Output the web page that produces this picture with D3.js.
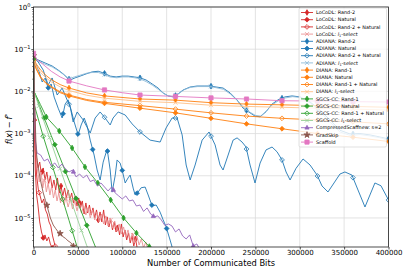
<!DOCTYPE html>
<html>
<head>
<meta charset="utf-8">
<script src="https://cdn.jsdelivr.net/npm/d3@7/dist/d3.min.js"></script>
<style>
  body { margin: 0; background: #fff; }
  svg { display: block; font-family: "DejaVu Sans", sans-serif; }
</style>
</head>
<body>
<svg id="chart" width="407" height="271"></svg>
<script>
// ---- tick labels ----
const xTicks = [0, 50000, 100000, 150000, 200000, 250000, 300000, 350000, 400000];
const yTicks = [1, 1e-1, 1e-2, 1e-3, 1e-4, 1e-5];
const yTickExp = ["0", "\u22121", "\u22122", "\u22123", "\u22124", "\u22125"];

// ---- series values: [communicated bits, f(x) - f*] ----
const locodlRand2 = [[0,0.08],[1000,3.6e-3],[2000,7.0e-4],[3000,3.1e-4],[5000,1.53e-4],[7000,2.12e-4],[9000,1.04e-4],[11000,1.53e-4],[13000,7.95e-5],[15000,1.23e-4],[17000,6.39e-5],[19000,9.9e-5],[21000,5.14e-5],[23000,7.95e-5],[25000,4.61e-5],[27000,8.87e-5],[29000,3.91e-5],[31000,5.73e-5],[33000,3.32e-5],[35000,5.14e-5],[37000,2.98e-5],[39000,4.61e-5],[41000,2.67e-5],[43000,3.91e-5],[45000,2.27e-5],[47000,3.32e-5],[49000,1.92e-5],[51000,2.98e-5],[53000,1.73e-5],[55000,2.53e-5],[57000,1.24e-5],[59000,2.27e-5],[61000,1.31e-5],[63000,2.03e-5],[65000,1.18e-5],[67000,1.73e-5],[69000,1.0e-5],[71000,1.55e-5],[73000,8.97e-6],[75000,1.39e-5],[77000,8.04e-6],[79000,1.55e-5],[81000,6.83e-6],[83000,1.06e-5],[85000,6.12e-6],[87000,8.97e-6],[89000,5.2e-6],[91000,8.04e-6],[93000,4.66e-6],[95000,6.83e-6],[97000,3.96e-6],[99000,7.21e-6],[101000,3.55e-6],[103000,5.2e-6],[105000,3.01e-6],[107000,4.41e-6],[109000,2.56e-6],[111000,3.75e-6],[113000,2.17e-6],[115000,3.18e-6],[117000,1.84e-6],[119000,1.5e-6]];
const locodlNatural = [[0,0.08],[1000,2.1e-3],[2000,1.37e-4],[3500,3.51e-5],[5000,2.03e-5],[7000,8.04e-6],[9000,4.66e-6],[11000,3.36e-6],[13000,3.96e-6],[15000,2.85e-6],[17000,3.55e-6],[19000,2.42e-6],[21000,1.95e-6],[23000,1.5e-6]];
const locodlRand2Natural = [[0,0.08],[1000,2.76e-3],[2000,4.09e-4],[3500,1.04e-4],[5500,4.61e-5],[7500,3.32e-5],[9500,2.27e-5],[11500,2.82e-5],[13500,1.55e-5],[15500,1.24e-5],[17500,8.04e-6],[19500,6.46e-6],[21500,3.75e-6],[23500,2.56e-6],[25500,1.74e-6]];
const locodlL1 = [[0,0.08],[1000,6.2e-3],[2000,9.3e-4],[3000,3.1e-4],[4500,1.37e-4],[6500,7.13e-5],[8500,1.23e-4],[10500,5.14e-5],[12500,8.87e-5],[14500,4.13e-5],[16500,6.75e-5],[18500,3.51e-5],[20500,5.73e-5],[22500,2.98e-5],[24500,4.61e-5],[26500,2.53e-5],[28500,3.91e-5],[30500,2.27e-5],[32500,3.51e-5],[34500,2.03e-5],[36500,3.15e-5],[39000,1.82e-5],[41500,2.82e-5],[44000,1.63e-5],[46500,2.53e-5],[49000,1.47e-5],[51500,2.27e-5],[54000,1.31e-5],[56500,1.92e-5],[59000,1.18e-5],[61500,1.73e-5],[64000,1.0e-5],[66500,1.55e-5],[69000,8.97e-6],[71500,1.39e-5],[74000,8.04e-6],[76500,1.24e-5],[79000,7.21e-6],[81500,1.12e-5],[84000,6.46e-6],[86500,1.0e-5],[89000,5.79e-6],[91500,8.49e-6],[94000,4.92e-6],[96500,7.21e-6],[99000,4.18e-6],[101500,6.12e-6],[104000,3.55e-6],[106500,5.2e-6],[109000,3.01e-6],[111500,4.41e-6],[114000,2.56e-6],[116500,3.75e-6],[119000,2.29e-6],[121500,3.18e-6],[124000,1.95e-6],[126500,2.7e-6],[129000,1.74e-6]];

const adianaRand2 = [[0,0.062],[5300,0.0555],[13200,0.047],[21000,0.04],[27800,0.032],[33400,0.026],[38000,0.021],[41400,0.0186],[47000,0.021],[52600,0.023],[59300,0.026],[66100,0.029],[72900,0.03],[79600,0.027],[86400,0.023],[93100,0.022],[99900,0.023],[106600,0.023],[113400,0.022],[120100,0.021],[126900,0.0186],[133700,0.015],[140400,0.012],[146000,0.0092],[151700,0.0078],[157300,0.0074],[163000,0.0087],[168600,0.0108],[176500,0.0127],[184300,0.0134],[192200,0.0134],[199000,0.0134],[205700,0.0127],[213600,0.012],[221500,0.0092],[229400,0.00625],[236200,0.004],[244000,0.0031],[249600,0.0026],[255300,0.0025],[262000,0.0033],[268800,0.005],[275500,0.0063],[283400,0.0074],[291300,0.0078],[300300,0.0074],[311600,0.0056],[322900,0.0036],[334100,0.0021],[345300,0.0012],[356600,0.00098],[367800,0.001],[379100,0.00093],[390300,0.00083],[400000,0.00075]];
const adianaNatural = [[0,0.062],[3000,0.042],[6400,0.029],[9800,0.0167],[13200,0.0207],[16500,0.012],[19900,0.015],[23300,0.0073],[27800,0.004],[32300,0.00234],[35700,0.005],[39000,0.0063],[42400,0.0036],[45800,0.0019],[50300,0.00093],[53700,0.0016],[57100,0.00234],[60500,0.0015],[63900,0.0007],[68300,0.00031],[71700,0.000137],[75100,7.95e-5],[78500,0.00021],[83000,0.00043],[86400,0.000137],[88600,4.1e-5],[92000,0.0001],[94200,0.000237],[97600,0.0002],[99900,0.000137],[103300,6.75e-5],[106600,8.9e-5],[108900,0.000104],[112300,5.1e-5],[114500,3.51e-5],[117900,4.1e-5],[121300,5.2e-5],[125800,5.4e-5],[129200,3.51e-5],[133700,1.92e-5],[138200,2.03e-5],[142700,1.37e-5],[146000,9.1e-6],[149400,6.2e-6],[153900,3.0e-6],[157300,1.7e-6]];
const adianaRand2Natural = [[0,0.062],[5300,0.0497],[10900,0.0322],[16500,0.0142],[21000,0.0208],[26700,0.0082],[32300,0.012],[37900,0.00625],[41400,0.00427],[44700,0.00188],[49200,0.00325],[56000,0.0021],[63900,0.00103],[69500,0.00234],[75100,0.00325],[80700,0.00234],[86400,0.0016],[89700,0.00234],[95400,0.00325],[103300,0.00276],[111200,0.00169],[120100,0.00109],[131400,0.0007],[142700,0.00063],[149400,0.00136],[156200,0.00234],[161800,0.00234],[167500,0.00093],[172000,0.00018],[176500,7.95e-5],[182100,0.00018],[190000,0.0007],[197800,0.00109],[204600,0.00054],[210200,0.00018],[213600,0.000137],[219300,0.00031],[224900,0.0007],[229400,0.00079],[235000,0.00063],[239500,0.00048],[244000,0.00018],[249600,6.75e-5],[255300,0.0002],[262000,0.00041],[268800,0.00048],[274400,0.00037],[280000,0.000237],[284600,0.000123],[289100,7.95e-5],[295800,0.00015],[303700,0.00025],[311600,0.00018],[319500,0.000104],[325100,5.73e-5],[331800,4.13e-5],[338600,6.75e-5],[345300,0.00011],[350900,0.000123],[358800,0.000104],[365600,4.61e-5],[373500,1.82e-5],[379100,3.51e-5],[384700,6.75e-5],[391500,5.8e-5],[400000,2.67e-5]];
const adianaL1 = [[0,0.062],[5000,0.052],[13000,0.044],[21000,0.038],[28000,0.031],[34000,0.025],[40000,0.02],[46000,0.022],[52000,0.024],[60000,0.027],[66000,0.028],[73000,0.028],[80000,0.025],[86000,0.022],[94000,0.021],[100000,0.022],[107000,0.022],[114000,0.021],[120000,0.02],[127000,0.017],[134000,0.014],[141000,0.011],[147000,0.0088],[152000,0.0078],[158000,0.0076],[164000,0.009],[170000,0.011],[177000,0.0125],[185000,0.013],[193000,0.013],[200000,0.013],[206000,0.0122],[214000,0.0112],[222000,0.0086],[230000,0.006],[237000,0.0041],[244000,0.0032],[250000,0.0027],[256000,0.0026],[262000,0.0034],[269000,0.0048],[276000,0.006],[284000,0.007],[292000,0.0075],[300000,0.0072],[312000,0.0053],[323000,0.0033],[334000,0.0019],[345000,0.0011],[357000,0.0009],[368000,0.00095],[379000,0.00088],[390000,0.0008],[400000,0.0007]];

const dianaRand1 = [[0,0.062],[3000,0.045],[8000,0.032],[14000,0.024],[20000,0.019],[30000,0.0145],[40000,0.012],[60000,0.0092],[80000,0.0078],[120000,0.0066],[160000,0.0062],[200000,0.0054],[240000,0.005],[280000,0.0048],[320000,0.0046],[360000,0.0044],[400000,0.0042]];
const dianaNatural = [[0,0.055],[3000,0.034],[8000,0.021],[14000,0.0155],[20000,0.0125],[30000,0.0093],[40000,0.0078],[60000,0.0061],[80000,0.0052],[120000,0.004],[160000,0.0031],[200000,0.0023],[240000,0.0017],[280000,0.0013],[320000,0.001],[360000,0.00082],[400000,0.00065]];
const dianaRand1Natural = [[0,0.055],[3000,0.035],[8000,0.022],[14000,0.016],[20000,0.013],[30000,0.0098],[40000,0.0082],[60000,0.0064],[80000,0.0055],[120000,0.0046],[160000,0.0038],[200000,0.0031],[240000,0.0026],[280000,0.0023],[320000,0.0021],[360000,0.0019],[400000,0.0017]];
const dianaL1 = [[0,0.06],[3000,0.04],[8000,0.028],[14000,0.021],[20000,0.0168],[30000,0.0128],[40000,0.0105],[60000,0.0081],[80000,0.0069],[120000,0.0058],[160000,0.0054],[200000,0.0047],[240000,0.0044],[280000,0.0042],[320000,0.004],[360000,0.0038],[400000,0.0036]];

const sgcsRand1 = [[0,0.06],[600,0.01],[14500,0.00247],[29000,0.00115],[43500,0.000456],[58000,0.000162],[72500,6.75e-5],[87000,2.67e-5],[101500,1.0e-5],[116000,4.4e-6],[130500,2.1e-6],[134000,1.7e-6]];
const sgcsNatural = [[0,0.06],[600,0.01],[10000,0.003],[20000,0.00089],[30000,0.000264],[40000,7.7e-5],[50000,2.27e-5],[60000,6.7e-6],[70000,2.0e-6],[72000,1.6e-6]];
const sgcsRand1Natural = [[0,0.06],[600,0.005],[10000,0.001],[20000,0.00021],[30000,4.3e-5],[40000,8.8e-6],[50000,1.8e-6]];
const sgcsL1 = [[0,0.06],[600,0.01],[10000,0.0025],[20000,0.00061],[30000,0.000148],[40000,3.6e-5],[50000,8.8e-6],[60000,2.2e-6],[62000,1.8e-6]];

const compressedScaffnew = [[0,0.07],[2000,7.0e-4],[4000,3.47e-4],[8000,3.11e-4],[12000,2.24e-4],[16000,2.5e-4],[20000,1.71e-4],[24000,2.01e-4],[28000,1.53e-4],[32000,1.9e-4],[36000,1.45e-4],[40000,1.23e-4],[44000,1.37e-4],[48000,9.4e-5],[52000,1.1e-4],[56000,8.9e-5],[60000,1.04e-4],[64000,7.3e-5],[68000,7.95e-5],[72000,5.7e-5],[76000,6.75e-5],[80000,5.43e-5],[84000,4.36e-5],[88000,5.43e-5],[92000,3.92e-5],[96000,3.33e-5],[100000,2.82e-5],[104000,3.33e-5],[108000,2.53e-5],[112000,2.67e-5],[116000,1.92e-5],[120000,2.03e-5],[124000,1.43e-5],[128000,1.73e-5],[132000,1.24e-5],[136000,1.06e-5],[140000,1.12e-5],[144000,8.97e-6],[148000,6.64e-6],[152000,7.21e-6],[156000,6.46e-6],[160000,4.66e-6],[164000,5.49e-6],[168000,3.75e-6],[172000,3.18e-6],[176000,3.96e-6],[180000,2.16e-6],[184000,2.42e-6],[188000,1.74e-6],[192000,1.4e-6]];
const gradSkip = [[0,0.07],[800,0.0108],[1900,0.0021],[3000,4.1e-4],[4200,2.3e-4],[5300,1.6e-4],[8000,7.5e-5],[11000,3.91e-5],[13500,2.6e-5],[16500,1.55e-5],[19000,1.0e-5],[22200,6.83e-6],[25000,5.6e-6],[27800,4.66e-6],[30500,4.2e-6],[33400,3.55e-6],[36000,3.3e-6],[39000,2.85e-6],[42000,2.6e-6],[44700,2.17e-6],[48000,1.84e-6],[50000,1.6e-6]];
const scaffold = [[0,0.08],[4000,0.056],[10000,0.045],[20000,0.03],[30000,0.022],[40000,0.0176],[60000,0.0135],[80000,0.0108],[100000,0.0093],[120000,0.0082],[160000,0.0076],[200000,0.007],[240000,0.0066],[280000,0.006],[320000,0.0059],[360000,0.0057],[400000,0.0056]];

// ---- series styling ----
const red = "#d62728", blue = "#1f77b4", orange = "#ff7f0e", green = "#2ca02c";
const series = [
  { name: "LoCoDL: Rand-2", data: locodlRand2, color: red, marker: "d", step: 21000, offset: 10000 },
  { name: "LoCoDL: Natural", data: locodlNatural, color: red, marker: "D", step: 10000, offset: 1000 },
  { name: "LoCoDL: Rand-2 + Natural", data: locodlRand2Natural, color: red, marker: "D", open: true, step: 18000, offset: 6400 },
  { name: "LoCoDL: l1-select", data: locodlL1, color: "#eb9394", marker: "x", step: 25000, offset: 12000 },
  { name: "ADIANA: Rand-2", data: adianaRand2, color: blue, marker: "d", step: 40000, offset: 0 },
  { name: "ADIANA: Natural", data: adianaNatural, color: blue, marker: "D", step: 16667, offset: 0 },
  { name: "ADIANA: Rand-2 + Natural", data: adianaRand2Natural, color: blue, marker: "D", open: true, step: 40000, offset: 0 },
  { name: "ADIANA: l1-select", data: adianaL1, color: "#8fbbd9", marker: "x", step: 40000, offset: 0 },
  { name: "DIANA: Rand-1", data: dianaRand1, color: orange, marker: "d", step: 40000, offset: 0 },
  { name: "DIANA: Natural", data: dianaNatural, color: orange, marker: "D", step: 40000, offset: 0 },
  { name: "DIANA: Rand-1 + Natural", data: dianaRand1Natural, color: orange, marker: "D", open: true, step: 40000, offset: 0 },
  { name: "DIANA: l1-select", data: dianaL1, color: "#ffbf86", marker: "x", step: 40000, offset: 0 },
  { name: "SGCS-CC: Rand-1", data: sgcsRand1, color: green, marker: "d", step: 14500, offset: 0 },
  { name: "SGCS-CC: Natural", data: sgcsNatural, color: green, marker: "D", step: 12000, offset: 0 },
  { name: "SGCS-CC: Rand-1 + Natural", data: sgcsRand1Natural, color: green, marker: "D", open: true, step: 10900, offset: 0 },
  { name: "SGCS-CC: l1-select", data: sgcsL1, color: "#95cf95", marker: "x", step: 12000, offset: 6000 },
  { name: "CompressedScaffnew: s=2", data: compressedScaffnew, color: "#9467bd", marker: "^", step: 45000, offset: 0 },
  { name: "GradSkip", data: gradSkip, color: "#8c564b", marker: "*", step: 15000, offset: 0 },
  { name: "Scaffold", data: scaffold, color: "#e377c2", marker: "s", step: 40000, offset: 0 }
];

const svg = d3.select("#chart");
const plot = { left: 33.5, right: 388.5, top: 7, bottom: 247 };

const x = d3.scaleLinear().domain([0, 400000]).range([plot.left, plot.right]);
const y = d3.scaleLog().domain([2.05e-6, 1]).range([plot.bottom, plot.top]);

svg.append("defs").append("clipPath").attr("id", "clip")
  .append("rect")
  .attr("x", plot.left).attr("y", plot.top)
  .attr("width", plot.right - plot.left).attr("height", plot.bottom - plot.top);

// grid
const grid = svg.append("g");
grid.selectAll(".gx").data(xTicks).join("line")
  .attr("x1", d => x(d)).attr("x2", d => x(d))
  .attr("y1", plot.top).attr("y2", plot.bottom)
  .attr("stroke", "#dcdcdc").attr("stroke-width", 0.8);
grid.selectAll(".gy").data(yTicks).join("line")
  .attr("x1", plot.left).attr("x2", plot.right)
  .attr("y1", d => y(d)).attr("y2", d => y(d))
  .attr("stroke", "#dcdcdc").attr("stroke-width", 0.8);

// axes
const xAxis = svg.append("g")
  .attr("transform", "translate(0," + plot.bottom + ")")
  .call(d3.axisBottom(x).tickValues(xTicks).tickFormat(d3.format("d")).tickSize(2.5).tickPadding(0.8))
  .attr("font-family", "DejaVu Sans").attr("font-size", 7);
xAxis.select(".domain").remove();
xAxis.selectAll("line").attr("stroke-width", 0.7);

const yAxis = svg.append("g")
  .attr("transform", "translate(" + plot.left + ",0)")
  .call(d3.axisLeft(y).tickValues(yTicks).tickFormat("").tickSize(2.2));
yAxis.select(".domain").remove();
yAxis.selectAll("line").attr("stroke-width", 0.7);

// minor ticks on the log axis
const minorTicks = [];
for (let k = -6; k < 0; k++) {
  for (let m = 2; m < 10; m++) {
    const v = m * Math.pow(10, k);
    if (v > 2.05e-6 && v < 1) minorTicks.push(v);
  }
}
const yMinor = svg.append("g")
  .attr("transform", "translate(" + plot.left + ",0)")
  .call(d3.axisLeft(y).tickValues(minorTicks).tickFormat("").tickSize(1.3));
yMinor.select(".domain").remove();
yMinor.selectAll("line").attr("stroke-width", 0.5);

// y tick labels as 10^k
const yLab = svg.append("g").attr("font-size", 7).attr("fill", "#000");
yTicks.forEach((v, i) => {
  const t = yLab.append("text")
    .attr("x", plot.left - 3).attr("y", y(v) + 2.6)
    .attr("text-anchor", "end");
  t.append("tspan").text("10");
  t.append("tspan").attr("font-size", 5).attr("dy", -3).text(yTickExp[i]);
});

// axis titles
svg.append("text")
  .attr("x", (plot.left + plot.right) / 2).attr("y", 266)
  .attr("text-anchor", "middle").attr("font-size", 8.3)
  .text("Number of Communicated Bits");

const yTitle = svg.append("text")
  .attr("transform", "translate(12,129) rotate(-90)")
  .attr("text-anchor", "middle").attr("font-size", 8.3);
yTitle.append("tspan").attr("font-style", "italic").text("f");
yTitle.append("tspan").text("(");
yTitle.append("tspan").attr("font-style", "italic").text("x");
yTitle.append("tspan").text(")\u2009\u2212\u2009");
yTitle.append("tspan").attr("font-style", "italic").text("f");
yTitle.append("tspan").attr("font-size", 5.8).attr("dy", -3).text("*");

// markers
function markerPath(type) {
  if (type === "d") return "M0,-2.8L1.7,0L0,2.8L-1.7,0Z";
  if (type === "D") return "M0,-2.4L2.4,0L0,2.4L-2.4,0Z";
  if (type === "s") return "M-2.1,-2.1H2.1V2.1H-2.1Z";
  if (type === "x") return "M-2,-2L2,2M-2,2L2,-2";
  if (type === "^") return "M0,-2.4L2.1,1.4L-2.1,1.4Z";
  return d3.symbol(d3.symbolStar, 12)();
}

function valueAt(data, b) {
  for (let i = 1; i < data.length; i++) {
    if (b <= data[i][0]) {
      const a = data[i - 1], c = data[i];
      const t = (b - a[0]) / (c[0] - a[0]);
      return Math.pow(10, Math.log10(a[1]) + t * (Math.log10(c[1]) - Math.log10(a[1])));
    }
  }
  return null;
}

function styleMarker(sel, s) {
  sel.attr("d", markerPath(s.marker))
    .attr("stroke", s.color).attr("stroke-width", 0.8)
    .attr("fill", (s.open || s.marker === "x") ? "none" : s.color);
}

const line = d3.line().x(d => x(d[0])).y(d => y(d[1]));
const plotG = svg.append("g").attr("clip-path", "url(#clip)");

series.forEach(s => {
  const g = plotG.append("g");
  g.append("path").datum(s.data)
    .attr("d", line)
    .attr("fill", "none")
    .attr("stroke", s.color)
    .attr("stroke-width", 0.9)
    .attr("stroke-linejoin", "round");

  const last = s.data[s.data.length - 1][0];
  const marks = [];
  for (let b = s.offset; b <= last; b += s.step) {
    const v = valueAt(s.data, b);
    if (v !== null) marks.push([b, v]);
  }
  g.selectAll("path.mk").data(marks).join("path")
    .attr("class", "mk")
    .attr("transform", d => "translate(" + x(d[0]) + "," + y(d[1]) + ")")
    .call(styleMarker, s);
});

// frame
svg.append("rect")
  .attr("x", plot.left).attr("y", plot.top)
  .attr("width", plot.right - plot.left).attr("height", plot.bottom - plot.top)
  .attr("fill", "none").attr("stroke", "#222").attr("stroke-width", 0.8);

// legend
const leg = svg.append("g");
leg.append("rect")
  .attr("x", 299).attr("y", 8).attr("width", 87.5).attr("height", 139)
  .attr("rx", 1.5)
  .attr("fill", "#fff").attr("fill-opacity", 0.8)
  .attr("stroke", "#cccccc").attr("stroke-width", 0.6);

series.forEach((s, i) => {
  const ry = 12.5 + i * 7.2;
  leg.append("line")
    .attr("x1", 301).attr("x2", 313).attr("y1", ry).attr("y2", ry)
    .attr("stroke", s.color).attr("stroke-width", 0.9);
  leg.append("path")
    .attr("transform", "translate(307," + ry + ")")
    .call(styleMarker, s);
  const t = leg.append("text")
    .attr("x", 316).attr("y", ry + 1.7)
    .attr("font-size", 4.9).attr("fill", "#000");
  if (s.name.endsWith("l1-select")) {
    t.append("tspan").text(s.name.replace("l1-select", ""));
    t.append("tspan").attr("font-style", "italic").text("l");
    t.append("tspan").attr("font-size", 3.4).attr("dy", 1).text("1");
    t.append("tspan").attr("dy", -1).text("-select");
  } else {
    t.text(s.name);
  }
});
</script>
</body>
</html>
